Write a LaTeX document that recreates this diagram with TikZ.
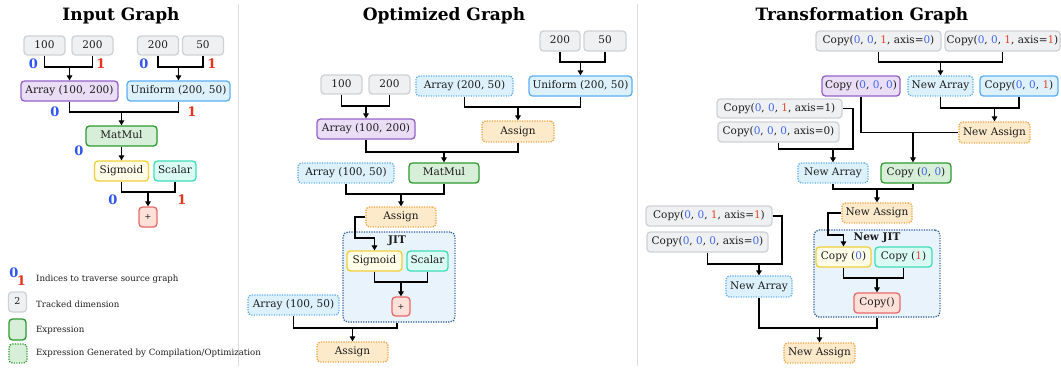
\documentclass[tikz,border=0pt]{standalone}
\usepackage{fontspec}
\setmainfont{DejaVu Serif}
\usetikzlibrary{arrows.meta,calc}
\definecolor{txt}{HTML}{1C1C1C}
\definecolor{grayF}{HTML}{EFF0F2}
\definecolor{grayD}{HTML}{CFD2D5}
\definecolor{purF}{HTML}{E9DEF5}
\definecolor{purD}{HTML}{9561C8}
\definecolor{bluF}{HTML}{DCF1FB}
\definecolor{bluD}{HTML}{5DAEF2}
\definecolor{grnF}{HTML}{D7EFD8}
\definecolor{grnD}{HTML}{2E9B2E}
\definecolor{yelF}{HTML}{FFFCE8}
\definecolor{yelD}{HTML}{F2CF3A}
\definecolor{teaF}{HTML}{DAFBF3}
\definecolor{teaD}{HTML}{3EDDB8}
\definecolor{redF}{HTML}{FDE1D9}
\definecolor{redD}{HTML}{E86A6A}
\definecolor{oraF}{HTML}{FCEACB}
\definecolor{oraD}{HTML}{F5A03A}
\definecolor{jitF}{HTML}{E8F3FC}
\definecolor{jitD}{HTML}{2F5C99}
\definecolor{idxB}{HTML}{2F55F2}
\definecolor{idxR}{HTML}{E8321A}
\definecolor{digB}{HTML}{3F66F0}
\definecolor{digR}{HTML}{E8452C}
\definecolor{sepC}{HTML}{DDDDDD}
\newcommand{\bz}{\textcolor{digB}{0}}
\newcommand{\rone}{\textcolor{digR}{1}}
\newcommand{\joinarr}[4]{%
  \draw[ln] (#1.south) |- (#2.south |- 0,#3) -- (#2.south);
  \draw[arr] (#4.north |- 0,#3) -- (#4.north);}
\begin{document}
\begin{tikzpicture}[x=1pt,y=-1pt,
  box/.style={rounded corners=3.5pt, line width=1.3pt, inner sep=0pt,
    minimum height=20pt, text height=7.6pt, text depth=2.4pt,
    font=\fontsize{10.5}{12}\selectfont, text=txt},
  dotb/.style={dash pattern=on 1.2pt off 1.3pt},
  gbox/.style={box, fill=grayF, draw=grayD},
  pbox/.style={box, fill=purF, draw=purD},
  bbox/.style={box, fill=bluF, draw=bluD},
  bdot/.style={box, fill=bluF, draw=bluD, dotb},
  grbox/.style={box, fill=grnF, draw=grnD},
  gdot/.style={box, fill=grnF, draw=grnD, dotb},
  ybox/.style={box, fill=yelF, draw=yelD},
  tbox/.style={box, fill=teaF, draw=teaD},
  rbox/.style={box, fill=redF, draw=redD},
  odot/.style={box, fill=oraF, draw=oraD, dotb},
  jitbox/.style={rounded corners=5pt, line width=1.3pt, fill=jitF, draw=jitD, dotb, inner sep=0pt},
  ttl/.style={font=\bfseries\fontsize{17}{19}\selectfont, anchor=base, text=black},
  ib/.style={font=\bfseries\fontsize{13}{14}\selectfont, text=idxB, inner sep=0pt},
  ir/.style={font=\bfseries\fontsize{13}{14}\selectfont, text=idxR, inner sep=0pt},
  leg/.style={font=\fontsize{8.6}{10}\selectfont, text=txt, anchor=west, inner sep=0pt},
  ln/.style={line width=1.5pt, draw=black},
  arr/.style={ln, -{Triangle[length=5pt,width=5.5pt]}},
  sep/.style={line width=1pt, draw=sepC}
]
\useasboundingbox[fill=white] (0,0) rectangle (1061,368);

% separators
\draw[sep] (238,4) -- (238,366);
\draw[sep] (637.5,4) -- (637.5,366);

% ================= Input Graph =================
\node[ttl] (t1) at (121,20) {Input Graph};
\node[gbox, minimum width=41pt, minimum height=19pt] (L100) at (44.5,45.5) {100};
\node[gbox, minimum width=41pt, minimum height=19pt] (L200a) at (92.5,45.5) {200};
\node[gbox, minimum width=41pt, minimum height=19pt] (L200b) at (158,45.5) {200};
\node[gbox, minimum width=41pt, minimum height=19pt] (L50) at (203,45.5) {50};
\node[pbox, minimum width=97pt] (Larr) at (69.5,91) {Array (100, 200)};
\node[bbox, minimum width=103pt] (Lunif) at (178.5,91) {Uniform (200, 50)};
\node[grbox, minimum width=71pt] (Lmm) at (121.5,136) {MatMul};
\node[ybox, minimum width=54pt] (Lsig) at (121.5,171) {Sigmoid};
\node[tbox, minimum width=42pt] (Lsca) at (175,171) {Scalar};
\node[rbox, minimum width=18pt, font=\fontsize{8}{9}\selectfont] (Lplus) at (148,217) {+};

\joinarr{L100}{L200a}{67}{Larr}
\joinarr{L200b}{L50}{67}{Lunif}
\joinarr{Larr}{Lunif}{112}{Lmm}
\draw[arr] (Lmm.south) -- (Lsig.north);
\joinarr{Lsig}{Lsca}{192}{Lplus}

\node[ib] (i1) at (33.5,64) {0};
\node[ir] (i2) at (101,64) {1};
\node[ib] (i3) at (144,64) {0};
\node[ir] (i4) at (212,64) {1};
\node[ib] (i5) at (55,112) {0};
\node[ir] (i6) at (192,112) {1};
\node[ib] (i7) at (79,151) {0};
\node[ib] (i8) at (113,200) {0};
\node[ir] (i9) at (182,200) {1};

% legend
\node[ib] (lg0) at (14,273) {0};
\node[ir] (lg1) at (21.5,281) {1};
\node[leg] (lgt1) at (36,279) {Indices to traverse source graph};
\node[gbox, minimum width=18pt, minimum height=20pt, font=\fontsize{9.5}{10}\selectfont] (lgb2) at (17.5,302) {2};
\node[leg] (lgt2) at (36,304) {Tracked dimension};
\node[grbox, minimum width=17pt, minimum height=21pt] (lgb3) at (17.5,329.5) {};
\node[leg] (lgt3) at (36,330.5) {Expression};
\node[gdot, minimum width=18pt, minimum height=19pt] (lgb4) at (18,353.5) {};
\node[leg] (lgt4) at (36,353) {Expression Generated by Compilation/Optimization};

% ================= Optimized Graph =================
\node[ttl] (t2) at (444,20) {Optimized Graph};
\node[gbox, minimum width=40pt] (M200) at (560,41) {200};
\node[gbox, minimum width=42pt] (M50) at (605,41) {50};
\node[bbox, minimum width=103pt] (Munif) at (580.5,86) {Uniform (200, 50)};
\node[bdot, minimum width=97pt] (Marr2) at (464.5,86) {Array (200, 50)};
\node[gbox, minimum width=41pt, minimum height=19pt] (M100) at (341.5,84.5) {100};
\node[gbox, minimum width=41pt, minimum height=19pt] (M200b) at (389.5,84.5) {200};
\node[pbox, minimum width=98pt] (Marr) at (366,129) {Array (100, 200)};
\node[odot, minimum width=72pt, minimum height=21pt] (Mass1) at (518,131.5) {Assign};
\node[grbox, minimum width=70pt] (Mmm) at (444,173) {MatMul};
\node[bdot, minimum width=96pt] (Marr3) at (346,173) {Array (100, 50)};
\node[odot, minimum width=70pt] (Mass2) at (401,217) {Assign};
\node[jitbox, minimum width=112pt, minimum height=90pt] (Mjit) at (399,277) {};
\node[font=\bfseries\fontsize{10.5}{12}\selectfont, text=txt, inner sep=0pt] (Mjitl) at (397,241) {JIT};
\node[ybox, minimum width=55pt] (Msig) at (374.5,261) {Sigmoid};
\node[tbox, minimum width=41pt] (Msca) at (427.5,261) {Scalar};
\node[rbox, minimum width=18pt, minimum height=19pt, font=\fontsize{8}{9}\selectfont] (Mplus) at (401,306.5) {+};
\node[bdot, minimum width=91pt] (Marr4) at (293.5,305) {Array (100, 50)};
\node[odot, minimum width=71pt] (Mass3) at (352.5,352) {Assign};

\joinarr{M200}{M50}{62}{Munif}
\joinarr{M100}{M200b}{106}{Marr}
\joinarr{Marr2}{Munif}{107}{Mass1}
\joinarr{Marr}{Mass1}{152}{Mmm}
\joinarr{Marr3}{Mmm}{194}{Mass2}
\coordinate (mc1) at (355,238);
\draw[arr] (Mass2.west) -| (mc1) -| (Msig.north);
\joinarr{Msig}{Msca}{282}{Mplus}
\draw[ln] (Marr4.south) |- ([xshift=-2pt]Mjit.south |- 0,328) -- ([xshift=-2pt]Mjit.south);
\draw[arr] (Mass3.north |- 0,328) -- (Mass3.north);

% ================= Transformation Graph =================
\node[ttl] (t3) at (862,20) {Transformation Graph};
\node[gbox, minimum width=125pt] (Rc1) at (878.5,41) {Copy(\bz, \bz, \rone, axis=\bz)};
\node[gbox, minimum width=115pt] (Rc2) at (1002.5,41) {Copy(\bz, \bz, \rone, axis=\rone)};
\node[pbox, minimum width=78pt] (Rcp000) at (861,86) {Copy (\bz, \bz, \bz)};
\node[bdot, minimum width=65pt] (Rna1) at (940.5,86) {New Array};
\node[bbox, minimum width=78pt] (Rcp001) at (1019,86) {Copy(\bz, \bz, \rone)};
\node[odot, minimum width=71pt, minimum height=21pt] (Rnas1) at (994.5,132.5) {New Assign};
\node[gbox, minimum width=125pt, minimum height=19pt] (Rc3) at (779.5,108.5) {Copy(\bz, \bz, \rone, axis=1)};
\node[gbox, minimum width=121pt] (Rc4) at (778.5,132) {Copy(\bz, \bz, \bz, axis=0)};
\node[bdot, minimum width=70pt] (Rna2) at (833,173) {New Array};
\node[grbox, minimum width=70pt] (Rcp00) at (916,173) {Copy (\bz, \bz)};
\node[odot, minimum width=70pt] (Rnas2) at (877,213) {New Assign};
\node[jitbox, minimum width=126pt, minimum height=87pt] (Rjit) at (877,273.5) {};
\node[font=\bfseries\fontsize{10.5}{12}\selectfont, text=txt, inner sep=0pt] (Rjitl) at (877,238) {New JIT};
\node[ybox, minimum width=55pt] (Rcp0) at (843.5,257) {Copy (\bz)};
\node[tbox, minimum width=57pt] (Rcp1) at (903.5,257) {Copy (\rone)};
\node[rbox, minimum width=46pt] (Rcpe) at (877,303) {Copy()};
\node[gbox, minimum width=126pt] (Rc5) at (709,216) {Copy(\bz, \bz, \rone, axis=\rone)};
\node[gbox, minimum width=121pt] (Rc6) at (707.5,242) {Copy(\bz, \bz, \bz, axis=\bz)};
\node[bdot, minimum width=66pt, minimum height=21pt] (Rna3) at (759,286.5) {New Array};
\node[odot, minimum width=71pt] (Rnas3) at (819.5,353) {New Assign};

\joinarr{Rc1}{Rc2}{62}{Rna1}
\joinarr{Rna1}{Rcp001}{108}{Rnas1}
\draw[ln] (Rcp000.south) |- (Rnas1.west);
\draw[arr] ([xshift=-3pt]Rcp00.north |- Rnas1.west) -- ([xshift=-3pt]Rcp00.north);
\coordinate (rc3a) at (853,149);
\draw[ln] (Rc3.east) -| (rc3a) -| (Rc4.south);
\draw[arr] (Rna2.north |- rc3a) -- (Rna2.north);
\draw[ln] (Rna2.south) |- ([xshift=-3pt]Rcp00.south |- 0,189) -- ([xshift=-3pt]Rcp00.south);
\draw[arr] (Rnas2.north |- 0,189) -- (Rnas2.north);
\coordinate (rc2a) at (828,235);
\draw[arr] (Rnas2.west) -| (rc2a) -| (Rcp0.north);
\joinarr{Rcp0}{Rcp1}{278}{Rcpe}
\coordinate (rc5a) at (782,264);
\draw[ln] (Rc5.east) -| (rc5a) -| (Rc6.south);
\draw[arr] (Rna3.north |- rc5a) -- (Rna3.north);
\draw[ln] (Rna3.south) |- (Rjit.south |- 0,328) -- (Rjit.south);
\draw[arr] (Rnas3.north |- 0,328) -- (Rnas3.north);
\end{tikzpicture}
\end{document}
